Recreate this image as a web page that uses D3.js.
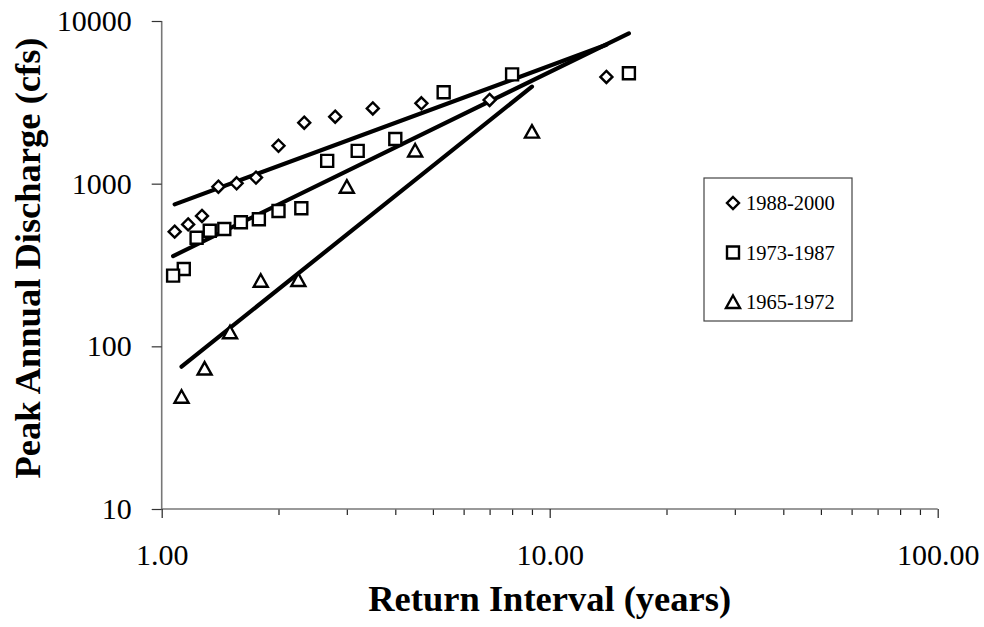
<!DOCTYPE html>
<html>
<head>
<meta charset="utf-8">
<script src="https://cdn.jsdelivr.net/npm/d3@7"></script>
<style>
	body { margin: 0; background: #fff; }
	svg { display: block; font-family: "Liberation Serif", "Times New Roman", serif; }
</style>
</head>
<body>
<div id="chart"></div>
<script>

// return interval (years) and peak annual discharge (cfs)
var retInt1988 = [14.00, 7.00, 4.67, 3.50, 2.80, 2.33, 2.00, 1.75, 1.56, 1.40, 1.27, 1.17, 1.08],
	peak1988 = [4530, 3270, 3120, 2900, 2580, 2370, 1710, 1090, 1005, 958, 633, 562, 507],

	retInt1973 = [16.00, 8.00, 5.33, 4.00, 3.20, 2.67, 2.29, 2.00, 1.78, 1.60, 1.45, 1.33, 1.23, 1.14, 1.07],
	peak1973 = [4770, 4700, 3650, 1880, 1590, 1380, 706, 679, 604, 579, 526, 514, 465, 299, 272],

	retInt1965 = [9.00, 4.50, 3.00, 2.25, 1.80, 1.50, 1.29, 1.125],
	peak1965 = [2090, 1600, 958, 256, 253, 122, 73, 49],

	// power trend lines, end points
	trendX1988 = [1.08, 14], trendY1988 = [746, 7140],
	trendX1973 = [1.07, 16], trendY1973 = [359, 8400],
	trendX1965 = [1.125, 9], trendY1965 = [75, 3950],

	seriesNames = ["1988-2000", "1973-1987", "1965-1972"],
	xTickValues = [1, 10, 100],
	yTickValues = [10, 100, 1000, 10000];

var
	width = 984,
	height = 627,
	margin = {left: 161.7, right: 46.3, top: 21, bottom: 118},
	serif = "Liberation Serif, Times New Roman, serif",

	x = d3.scaleLog()
		.domain([1, 100])
		.range([margin.left, width - margin.right]),

	y = d3.scaleLog()
		.domain([10, 10000])
		.range([height - margin.bottom, margin.top]),

	svg = d3.select("#chart")
		.append("svg")
		.attr("width", width)
		.attr("height", height)
		.attr("font-family", serif);

svg.append("rect")
	.attr("width", width)
	.attr("height", height)
	.attr("fill", "#fff");

// axes
var xMinor = [];
[1, 10].forEach(function(d){
	for (var i = 2; i <= 9; i++) xMinor.push(d * i);
});

var xAxisG = svg.append("g")
	.attr("transform", "translate(0," + y(10) + ")");

xAxisG.append("g")
	.call(d3.axisBottom(x).tickValues(xMinor).tickSize(6).tickFormat(""))
	.call(g => g.select(".domain").remove());

xAxisG.append("g")
	.call(d3.axisBottom(x).tickValues(xTickValues).tickSize(9).tickPadding(26).tickFormat(d3.format(".2f")))
	.call(g => g.select(".domain").attr("d", "M" + x(1) + ",0H" + x(100)));

xAxisG.selectAll("g").attr("font-family", serif);
xAxisG.selectAll("line").attr("stroke", "#222").attr("stroke-width", 1.2);
xAxisG.selectAll(".domain").attr("stroke", "#777").attr("stroke-width", 1.6);
xAxisG.selectAll("text")
	.attr("fill", "#000")
	.attr("font-size", 30);

var yAxisG = svg.append("g")
	.attr("transform", "translate(" + x(1) + ",0)")
	.call(d3.axisLeft(y).tickValues(yTickValues).tickSize(10).tickPadding(20).tickFormat(d3.format("d")))
	.call(g => g.select(".domain").attr("d", "M0," + y(10) + "V" + y(10000)))
	.attr("font-family", serif);

yAxisG.selectAll("line").attr("stroke", "#333").attr("stroke-width", 1.2);
yAxisG.select(".domain").attr("stroke", "#777").attr("stroke-width", 1.6);
yAxisG.selectAll("text")
	.attr("fill", "#000")
	.attr("font-size", 30);

// axis titles
svg.append("text")
	.attr("x", (x(1) + x(100)) / 2)
	.attr("y", 611)
	.attr("text-anchor", "middle")
	.attr("font-family", serif)
	.attr("font-size", 36.5)
	.attr("font-weight", "bold")
	.text("Return Interval (years)");

svg.append("text")
	.attr("transform", "translate(40," + 258 + ") rotate(-90)")
	.attr("text-anchor", "middle")
	.attr("font-family", serif)
	.attr("font-size", 36.5)
	.attr("font-weight", "bold")
	.text("Peak Annual Discharge (cfs)");

// markers
var symDiamond = "M0,-6L6,0L0,6L-6,0Z",
	symSquare = "M-6,-6H6V6H-6Z",
	symTriangle = "M0,-6.5L7,6L-7,6Z",
	symbols = [symDiamond, symSquare, symTriangle],
	strokes = [2.4, 2.4, 2.4];

// trend lines
var line = d3.line()
	.x(d => x(d[0]))
	.y(d => y(d[1]));

[[trendX1988, trendY1988], [trendX1973, trendY1973], [trendX1965, trendY1965]].forEach(function(t){
	svg.append("path")
		.datum(d3.zip(t[0], t[1]))
		.attr("d", line)
		.attr("fill", "none")
		.attr("stroke", "#000")
		.attr("stroke-width", 4.2)
		.attr("stroke-linecap", "round");
});

[[retInt1988, peak1988], [retInt1973, peak1973], [retInt1965, peak1965]].forEach(function(s, i){
	svg.append("g")
		.selectAll("path")
		.data(d3.zip(s[0], s[1]))
		.join("path")
		.attr("transform", d => "translate(" + x(d[0]) + "," + y(d[1]) + ")")
		.attr("d", symbols[i])
		.attr("fill", "#fff")
		.attr("stroke", "#000")
		.attr("stroke-width", strokes[i]);
});

// legend
var legend = svg.append("g");

legend.append("rect")
	.attr("x", 704)
	.attr("y", 178)
	.attr("width", 148)
	.attr("height", 143)
	.attr("fill", "#fff")
	.attr("stroke", "#444")
	.attr("stroke-width", 1.2);

var legendItems = legend.selectAll("g.item")
	.data(seriesNames)
	.join("g")
	.attr("class", "item")
	.attr("transform", (d, i) => "translate(733," + (203 + i * 49.5) + ")");

legendItems.append("path")
	.attr("d", (d, i) => symbols[i])
	.attr("fill", "#fff")
	.attr("stroke", "#000")
	.attr("stroke-width", (d, i) => strokes[i]);

legendItems.append("text")
	.attr("x", 13)
	.attr("y", 7)
	.attr("font-family", serif)
	.attr("font-size", 20.5)
	.text(d => d);

</script>
</body>
</html>
